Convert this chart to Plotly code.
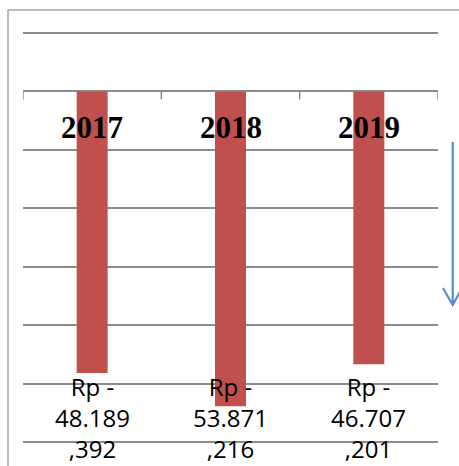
import plotly.graph_objects as go

years = ["2017", "2018", "2019"]
values = [-48189.392, -53871.216, -46707.201]
value_labels = ["Rp -<br>48.189<br>,392", "Rp -<br>53.871<br>,216", "Rp -<br>46.707<br>,201"]

W, H = 459, 466
ML, MR, MT, MB = 23, 21, 30, 0
PW, PH = W - ML - MR, H - MT - MB

def px(x):
    return (x - ML) / PW

def py(y):
    return (H - MB - y) / PH

grid_px = 58.43
top_val = 10000 + (33 - MT) / grid_px * 10000
bot_val = top_val - PH / grid_px * 10000

fig = go.Figure()
fig.add_trace(go.Bar(
    x=years, y=values, width=0.224,
    marker=dict(color="#C0504D", line=dict(width=0)),
    hoverinfo="skip",
))

for i, (yr, lab) in enumerate(zip(years, value_labels)):
    # category label just below the zero axis
    fig.add_annotation(
        x=i, xref="x", y=0, yref="y", yanchor="middle", yshift=-36,
        text=f"<b>{yr}</b>", showarrow=False,
        font=dict(family="Liberation Serif", size=31, color="#000000"),
    )
    # value label
    fig.add_annotation(
        x=i, xref="x", y=py(417), yref="paper", yanchor="middle",
        text=lab, showarrow=False,
        font=dict(family="Open Sans", size=24, color="#000000"),
        align="center",
    )

grey = "#8c8c8c"
shapes = [
    # chart-area border (left and top)
    dict(type="path", xref="paper", yref="paper",
         path=f"M {px(8)},{py(470)} L {px(8)},{py(10)} L {px(459.5)},{py(10)}",
         line=dict(color="#a6a6a6", width=1.5)),
    # blue downward arrow
    dict(type="path", xref="paper", yref="paper",
         path=(f"M {px(452.7)},{py(142)} L {px(452.7)},{py(305)} "
               f"M {px(443)},{py(288)} L {px(452.7)},{py(305)} L {px(462)},{py(288)}"),
         line=dict(color="#5B8BCB", width=2.2)),
]
# tick marks on the zero axis at category boundaries
for i in range(len(years) + 1):
    shapes.append(dict(
        type="line", xref="x", yref="y", ysizemode="pixel", yanchor=0,
        x0=i - 0.5, x1=i - 0.5, y0=0, y1=-8,
        line=dict(color=grey, width=1.5),
    ))

fig.update_layout(
    width=W, height=H,
    margin=dict(l=ML, r=MR, t=MT, b=MB, pad=0),
    paper_bgcolor="white", plot_bgcolor="white",
    showlegend=False,
    shapes=shapes,
    xaxis=dict(
        type="category", range=[-0.5, 2.5],
        showline=False, ticks="", showticklabels=False,
        showgrid=False, zeroline=False,
    ),
    yaxis=dict(
        range=[bot_val, top_val], dtick=10000,
        showgrid=True, gridcolor=grey, gridwidth=1.5,
        zeroline=True, zerolinecolor=grey, zerolinewidth=1.5,
        showticklabels=False, ticks="",
        showline=False,
    ),
)

fig.write_html("out.html")
